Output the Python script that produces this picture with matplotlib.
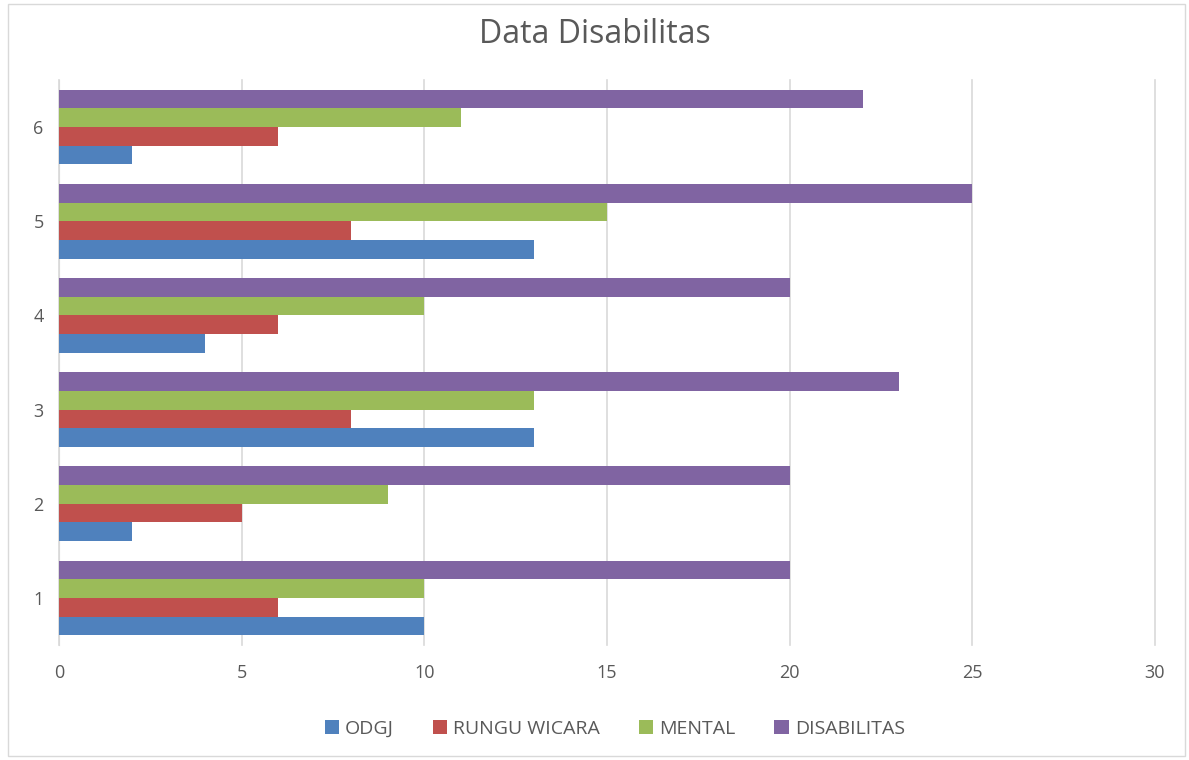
import numpy as np
import matplotlib
matplotlib.use("Agg")
import matplotlib.pyplot as plt

plt.rcParams['font.family'] = ['Open Sans', 'DejaVu Sans']

categories = ['1', '2', '3', '4', '5', '6']
odgj = [10, 2, 13, 4, 13, 2]
rungu_wicara = [6, 5, 8, 6, 8, 6]
mental = [10, 9, 13, 10, 15, 11]
disabilitas = [20, 20, 23, 20, 25, 22]

series = [('ODGJ', odgj, '#4F81BD'),
          ('RUNGU WICARA', rungu_wicara, '#C0504D'),
          ('MENTAL', mental, '#9BBB59'),
          ('DISABILITAS', disabilitas, '#8064A2')]

fig = plt.figure(figsize=(11.89, 7.60), dpi=100)
ax = fig.add_axes([0.0496, 0.1513, 0.9218, 0.7434])

y = np.arange(1, len(categories) + 1)
h = 0.198
for i, (name, vals, col) in enumerate(series):
    ax.barh(y + (i - 1.5) * h, vals, height=h, color=col, label=name, zorder=3)

ax.set_xlim(0, 30)
ax.set_ylim(0.5, 6.5)
ax.set_xticks(range(0, 31, 5))
ax.set_yticks(y)
ax.set_yticklabels(categories)
ax.grid(axis='x', color='#D9D9D9', linewidth=1.2, zorder=0)
for gl in ax.get_xgridlines():
    gl.set_clip_on(False)
for s in ['top', 'right', 'bottom']:
    ax.spines[s].set_visible(False)
ax.spines['left'].set_color('#D9D9D9')
ax.tick_params(length=0, labelsize=13, colors='#595959', pad=14)
ax.tick_params(axis='y', pad=11)

fig.text(0.5, 0.955, 'Data Disabilitas', ha='center', va='center', fontsize=23, color='#595959')

fig.legend(loc='center', bbox_to_anchor=(0.517, 0.041), ncol=4, frameon=False,
           fontsize=14, labelcolor='#595959', handlelength=0.75, handleheight=0.75,
           handletextpad=0.3, columnspacing=2.0)

border = plt.Rectangle((0.007, 0.005), 0.99, 0.99, transform=fig.transFigure,
                       fill=False, edgecolor='#D9D9D9', linewidth=1)
fig.patches.append(border)

fig.savefig('out.png', dpi=100)
